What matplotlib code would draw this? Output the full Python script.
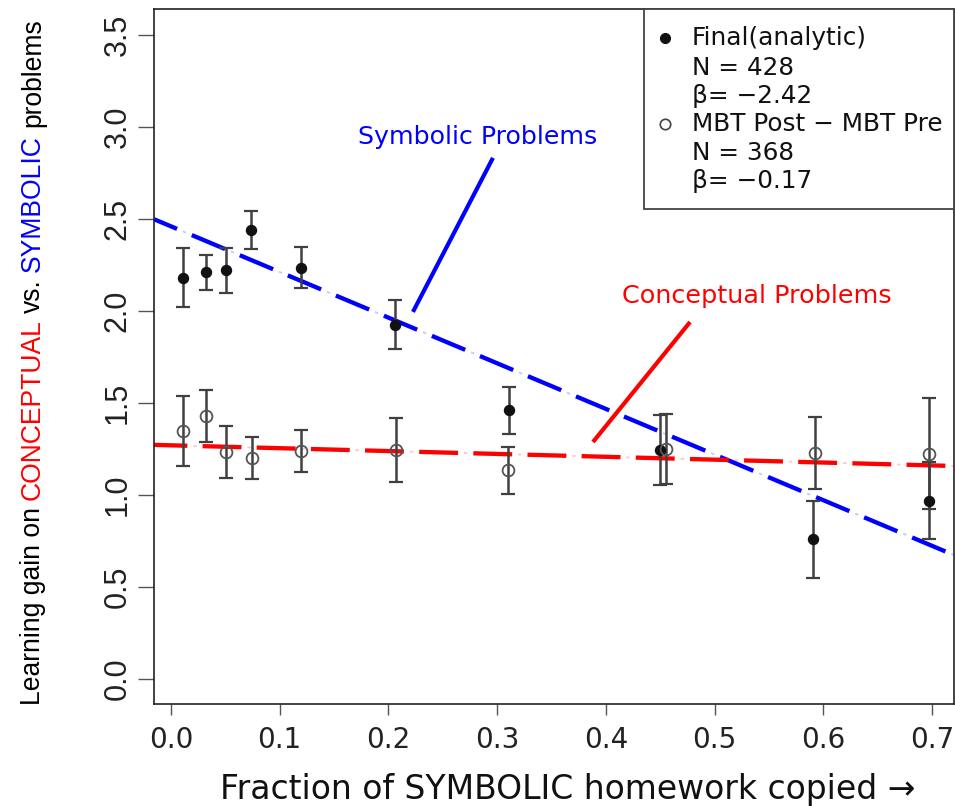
import numpy as np
import matplotlib
matplotlib.use("Agg")
import matplotlib.pyplot as plt
from matplotlib.patches import Rectangle
from matplotlib.lines import Line2D
from matplotlib import font_manager as fm

plt.rcParams["lines.scale_dashes"] = False

# ---------------- data ----------------
x_final = [0.011, 0.032, 0.051, 0.074, 0.120, 0.206, 0.311, 0.450, 0.591, 0.697]
y_final = [2.18, 2.21, 2.22, 2.44, 2.235, 1.925, 1.46, 1.245, 0.76, 0.97]
err_final = [0.16, 0.095, 0.12, 0.105, 0.11, 0.134, 0.126, 0.19, 0.21, 0.21]

x_mbt = [0.011, 0.032, 0.051, 0.075, 0.120, 0.207, 0.310, 0.455, 0.592, 0.697]
y_mbt = [1.35, 1.43, 1.235, 1.20, 1.24, 1.245, 1.135, 1.25, 1.23, 1.225]
err_mbt = [0.19, 0.14, 0.14, 0.115, 0.115, 0.174, 0.127, 0.19, 0.195, 0.30]

sym_intercept, sym_slope = 2.46, -2.48      # drawn fit (Symbolic)
con_intercept, con_slope = 1.27, -0.156     # drawn fit (Conceptual)

x_ticks = [0.0, 0.1, 0.2, 0.3, 0.4, 0.5, 0.6, 0.7]
y_ticks = [0.0, 0.5, 1.0, 1.5, 2.0, 2.5, 3.0, 3.5]

legend_lines = ["Final(analytic)", "N = 428", "\u03b2= \u22122.42",
                "MBT Post \u2212 MBT Pre", "N = 368", "\u03b2= \u22120.17"]
ylabel_parts = ["Learning gain on", "CONCEPTUAL", "vs.", "SYMBOLIC", "problems"]
ylabel_colors = ["black", "#ff0000", "black", "#0000ff", "black"]
xlabel_text = "Fraction of SYMBOLIC homework copied \u2192"

# ---------------- fonts ----------------
names = {f.name for f in fm.fontManager.ttflist}
NARROW = "Liberation Sans Narrow" if "Liberation Sans Narrow" in names else "Liberation Sans"
WIDE = "DejaVu Sans"

W, H = 955, 806
fig = plt.figure(figsize=(W / 100, H / 100), dpi=100)
renderer = fig.canvas.get_renderer()


def fx(px):
    return px / W


def fy(py):
    return 1 - py / H


ax = fig.add_axes([fx(154), fy(703.5), (954 - 154) / W, (703.5 - 9) / H])
ax.set_xlim(-0.0156, 0.7203)
ax.set_ylim(-0.133, 3.641)

for s in ax.spines.values():
    s.set_linewidth(1.2)
    s.set_color("#222222")

# fit lines (long dash, faint dot)
xl = np.array(ax.get_xlim())
for a, b, col, dash, gap, ph in [(sym_intercept, sym_slope, "#0000ff", 26, 11.5, 8),
                                 (con_intercept, con_slope, "#ff0000", 28, 11, 4)]:
    yy = a + b * xl
    ax.plot(xl, yy, color=col, lw=3.1, linestyle=(ph, (dash, gap)),
            dash_capstyle="butt", zorder=2)
    dot = 2.5
    ax.plot(xl, yy, color=col, lw=1.3, alpha=0.22,
            linestyle=(ph - dash - (gap - dot) / 2, (dot, dash + gap - dot)),
            dash_capstyle="butt", zorder=2)

# error bars and points
ax.errorbar(x_final, y_final, yerr=err_final, fmt="none", ecolor="#404040",
            elinewidth=1.8, capsize=4.8, capthick=1.6, zorder=3)
ax.errorbar(x_mbt, y_mbt, yerr=err_mbt, fmt="none", ecolor="#404040",
            elinewidth=1.8, capsize=4.8, capthick=1.6, zorder=3)
ax.plot(x_final, y_final, "o", ms=7.2, color="#111111", zorder=5)
ax.plot(x_mbt, y_mbt, "o", ms=8.5, mfc="none", mec="#555555", mew=1.3, zorder=5)

# ticks
ax.set_xticks(x_ticks)
ax.set_xticklabels([f"{v:.1f}" for v in x_ticks], fontfamily=WIDE, fontsize=20,
                   color="#222222")
ax.set_yticks(y_ticks)
ax.set_yticklabels([f"{v:.1f}" for v in y_ticks], fontfamily=NARROW, fontsize=22,
                   rotation=90, va="center", color="#222222")
ax.tick_params(axis="x", length=8, width=1, color="#555555", pad=8)
ax.tick_params(axis="y", length=11.5, width=1, color="#555555", pad=4)


def fit_width(t, target):
    w = t.get_window_extent(renderer).width
    t.set_fontsize(t.get_fontsize() * target / w)


# annotations
t1 = fig.text(fx(478), fy(137), "Symbolic Problems", color="#0000ff",
              fontfamily=WIDE, fontsize=17, ha="center", va="center")
fit_width(t1, 240)
t2 = fig.text(fx(757), fy(296), "Conceptual Problems", color="#ff0000",
              fontfamily=WIDE, fontsize=17, ha="center", va="center")
fit_width(t2, 270)
ax.plot([0.2226, 0.2962], [1.995, 2.832], color="#0000ff", lw=3.0,
        solid_capstyle="butt", zorder=4)
ax.plot([0.3882, 0.4775], [1.288, 1.940], color="#ff0000", lw=3.0,
        solid_capstyle="butt", zorder=4)

# legend (manual box)
fig.patches.append(Rectangle((fx(644), fy(209)), (954 - 644) / W, (209 - 9) / H,
                             transform=fig.transFigure, fill=True, fc="white",
                             ec="#444444", lw=1.3, zorder=6))
leg_y = [38, 68, 96, 124, 153, 181]
leg_texts = []
for txt, yy in zip(legend_lines, leg_y):
    t = fig.text(fx(692), fy(yy), txt, fontfamily=WIDE, fontsize=16,
                 ha="left", va="center", color="#111111", zorder=7)
    leg_texts.append(t)
fit_width(leg_texts[3], 251)
for t in leg_texts:
    t.set_fontsize(leg_texts[3].get_fontsize())
fig.lines.append(Line2D([fx(665)], [fy(38)], marker="o", ms=7, color="#111111",
                        transform=fig.transFigure, zorder=7))
fig.lines.append(Line2D([fx(665)], [fy(124)], marker="o", ms=7.5, mfc="none",
                        mec="#444444", mew=1.2, transform=fig.transFigure, zorder=7))

# x label
xt = fig.text(fx(568), fy(790), xlabel_text, fontfamily=WIDE, fontsize=21,
              ha="center", va="center", color="#111111")
fit_width(xt, 695)

# multi-coloured y label
full = " ".join(ylabel_parts)
tmp = fig.text(0, 0, full, fontfamily=NARROW, fontsize=22)
fit_width(tmp, 685)
ysize = tmp.get_fontsize()
prop = tmp.get_fontproperties()
tmp.remove()


def tw(s):
    w, h, d = renderer.get_text_width_height_descent(s, prop, ismath=False)
    return w


total = tw(full)
center_disp = H - 362
start = center_disp - total / 2
for i, (part, col) in enumerate(zip(ylabel_parts, ylabel_colors)):
    prefix = " ".join(ylabel_parts[:i]) + (" " if i > 0 else "")
    off = tw(prefix + part) - tw(part)
    fig.text(fx(33), (start + off) / H, part, rotation=90, fontfamily=NARROW,
             fontsize=ysize, color=col, ha="center", va="bottom")

fig.savefig("out.png", dpi=100)
